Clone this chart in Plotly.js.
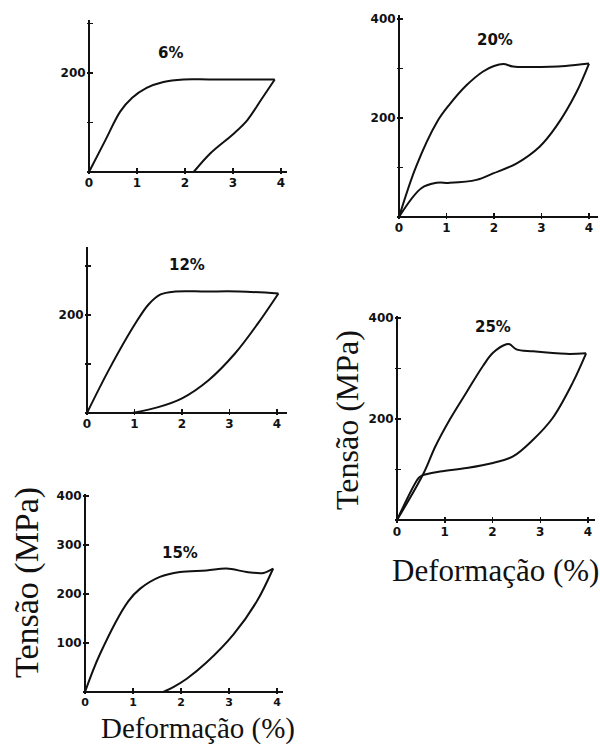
<!DOCTYPE html>
<html>
<head>
<meta charset="utf-8">
<script src="https://cdn.plot.ly/plotly-3.0.1.min.js"></script>
<style>
html,body{margin:0;padding:0;background:#fff;}
#chart{width:600px;height:746px;}
</style>
</head>
<body>
<div id="chart"></div>
<script>
// ---- Data (strain %, stress MPa) ----
const panelLabels = ["6%", "20%", "12%", "15%", "25%"];
const xTickVals = [0, 1, 2, 3, 4];
const xTickText = ["0", "1", "2", "3", "4"];

// 6 %
const load6_x   = [0, 0.35, 0.65, 0.9, 1.2, 1.55, 1.97, 2.5, 3.2, 3.87];
const load6_y   = [0, 66, 122, 150, 170, 182, 187, 187, 187, 187];
const unload6_x = [3.87, 3.6, 3.3, 3.02, 2.53, 2.18];
const unload6_y = [187, 148, 105, 78, 38, 0];

// 20 %
const load20_x   = [0, 0.36, 0.8, 1.07, 1.42, 1.77, 2.0, 2.2, 2.4, 2.8, 3.5, 4.0];
const load20_y   = [0, 102, 192, 228, 266, 294, 305, 309, 304, 303, 305, 310];
const unload20_x = [4.0, 3.73, 3.31, 2.96, 2.47, 1.98, 1.63, 1.07, 0.79, 0.47, 0];
const unload20_y = [310, 251, 183, 142, 108, 88, 75, 69, 69, 58, 0];

// 12 %
const load12_x   = [0, 0.46, 1.02, 1.3, 1.55, 1.86, 2.5, 3.2, 4.03];
const load12_y   = [0, 88, 183, 222, 242, 248, 248, 248, 244];
const unload12_x = [4.03, 3.6, 3.12, 2.56, 2.0, 1.5, 0.95];
const unload12_y = [244, 183, 122, 67, 30, 12, 0];

// 15 %
const load15_x   = [0, 0.31, 0.9, 1.15, 1.56, 1.98, 2.53, 2.95, 3.37, 3.72, 3.92];
const load15_y   = [0, 77, 185, 211, 235, 245, 248, 252, 245, 243, 252];
const unload15_x = [3.92, 3.58, 3.09, 2.53, 2.12, 1.84, 1.63];
const unload15_y = [252, 185, 117, 60, 27, 10, 0];

// 25 %
const load25_x   = [0, 0.56, 0.8, 1.1, 1.45, 1.8, 2.01, 2.29, 2.36, 2.5, 2.85, 3.54, 3.96];
const load25_y   = [0, 93, 145, 198, 252, 305, 331, 348, 348, 338, 334, 329, 330];
const unload25_x = [3.96, 3.68, 3.26, 2.85, 2.43, 2.01, 1.46, 0.9, 0.52, 0.45, 0];
const unload25_y = [330, 272, 202, 159, 126, 113, 103, 96, 88, 83, 0];

// y tick values / labels per panel
const yTicks6   = [100, 200, 300];  const yText6  = ["", "200", ""];
const yTicks20  = [100, 200, 300, 400]; const yText20 = ["", "200", "", "400"];
const yTicks12  = [100, 200, 300];  const yText12 = ["", "200", ""];
const yTicks15  = [100, 200, 300, 400]; const yText15 = ["100", "200", "300", "400"];
const yTicks25  = [100, 200, 300, 400]; const yText25 = ["", "200", "", "400"];

const yTitle = "Tensão (MPa)";
const xTitle = "Deformação (%)";

// ---- Layout helpers ----
const W = 600, H = 746;
function geom(x0px, pxX, xmin, xmax, y0px, pxY, ymin, ymax) {
  return {
    xr: [xmin, xmax], yr: [ymin, ymax],
    xd: [(x0px + xmin * pxX) / W, (x0px + xmax * pxX) / W],
    yd: [1 - (y0px - ymin * pxY) / H, 1 - (y0px - ymax * pxY) / H]
  };
}
const G = [
  geom(89, 48, -0.05, 4.12, 172, 0.495, -5, 307),     // 6%
  geom(399, 47.5, -0.05, 4.19, 217, 0.495, -5, 408),  // 20%
  geom(87, 47.5, -0.05, 4.2, 413, 0.49, -5, 339),     // 12%
  geom(85, 48, -0.05, 4.12, 692, 0.49, -5, 404),      // 15%
  geom(397, 47.75, -0.05, 4.15, 520, 0.505, -5, 404)  // 25%
];

const tickFont = {family: "DejaVu Sans", size: 12, color: "#111", weight: "bold"};
function xax(i, g, fsize) {
  return {
    domain: g.xd, range: g.xr, anchor: i === 1 ? "y" : "y" + i,
    showgrid: false, showline: false, zeroline: true, zerolinecolor: "#111", zerolinewidth: 2,
    ticks: "inside", ticklen: 6, tickwidth: 1.5, tickcolor: "#111",
    tickmode: "array", tickvals: xTickVals, ticktext: xTickText,
    tickfont: Object.assign({}, tickFont, {size: fsize || 12}),
    fixedrange: true
  };
}
function yax(i, g, tv, tt) {
  return {
    domain: g.yd, range: g.yr, anchor: i === 1 ? "x" : "x" + i,
    showgrid: false, showline: false, zeroline: true, zerolinecolor: "#111", zerolinewidth: 2,
    ticks: "inside", ticklen: 6, tickwidth: 1.5, tickcolor: "#111",
    tickmode: "array", tickvals: tv, ticktext: tt, tickfont: tickFont,
    fixedrange: true
  };
}

const lineStyle = {color: "#111", width: 2, shape: "spline", smoothing: 1};
function tr(x, y, i) {
  return {x: x, y: y, mode: "lines", line: lineStyle, hoverinfo: "skip",
          xaxis: i === 1 ? "x" : "x" + i, yaxis: i === 1 ? "y" : "y" + i, showlegend: false};
}

const data = [
  tr(load6_x, load6_y, 1), tr(unload6_x, unload6_y, 1),
  tr(load20_x, load20_y, 2), tr(unload20_x, unload20_y, 2),
  tr(load12_x, load12_y, 3), tr(unload12_x, unload12_y, 3),
  tr(load15_x, load15_y, 4), tr(unload15_x, unload15_y, 4),
  tr(load25_x, load25_y, 5), tr(unload25_x, unload25_y, 5)
];

const titlePos = [[170, 53], [495, 40], [187, 265], [180, 553], [493, 327]];
const annFont = {family: "DejaVu Sans", size: 15, color: "#111", weight: "bold"};
const serif = {family: "Liberation Serif, Times New Roman, serif", size: 32, color: "#111"};

const annotations = panelLabels.map((t, k) => ({
  text: t, xref: "paper", yref: "paper", x: titlePos[k][0] / W, y: 1 - titlePos[k][1] / H,
  xanchor: "center", yanchor: "middle", showarrow: false, font: annFont
}));
annotations.push(
  {text: yTitle, xref: "paper", yref: "paper", x: 27 / W, y: 1 - 583 / H, textangle: -90,
   xanchor: "center", yanchor: "middle", showarrow: false, font: Object.assign({}, serif, {size: 34})},
  {text: yTitle, xref: "paper", yref: "paper", x: 347 / W, y: 1 - 420 / H, textangle: -90,
   xanchor: "center", yanchor: "middle", showarrow: false, font: serif},
  {text: xTitle, xref: "paper", yref: "paper", x: 198 / W, y: 1 - 728 / H,
   xanchor: "center", yanchor: "middle", showarrow: false, font: Object.assign({}, serif, {size: 29})},
  {text: xTitle, xref: "paper", yref: "paper", x: 495 / W, y: 1 - 570 / H,
   xanchor: "center", yanchor: "middle", showarrow: false, font: Object.assign({}, serif, {size: 31})}
);

const layout = {
  width: W, height: H, margin: {l: 0, r: 0, t: 0, b: 0},
  paper_bgcolor: "#fff", plot_bgcolor: "rgba(0,0,0,0)", showlegend: false,
  xaxis: xax(1, G[0]), yaxis: yax(1, G[0], yTicks6, yText6),
  xaxis2: xax(2, G[1]), yaxis2: yax(2, G[1], yTicks20, yText20),
  xaxis3: xax(3, G[2]), yaxis3: yax(3, G[2], yTicks12, yText12),
  xaxis4: xax(4, G[3], 11), yaxis4: yax(4, G[3], yTicks15, yText15),
  xaxis5: xax(5, G[4]), yaxis5: yax(5, G[4], yTicks25, yText25),
  annotations: annotations
};

Plotly.newPlot("chart", data, layout, {staticPlot: true, displayModeBar: false});
</script>
</body>
</html>
